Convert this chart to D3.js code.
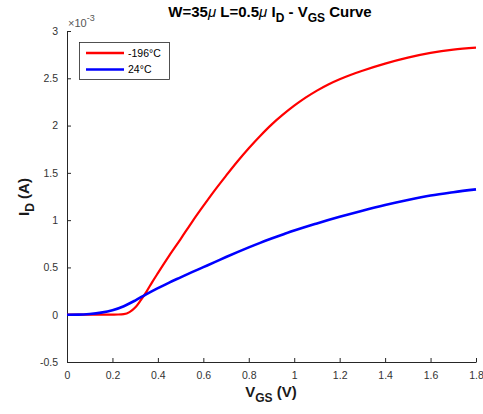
<!DOCTYPE html>
<html>
<head>
<meta charset="utf-8">
<script src="https://cdn.jsdelivr.net/npm/d3@7"></script>
<style>
  html, body { margin: 0; padding: 0; background: #fff; }
  svg { display: block; font-family: "Liberation Sans", Arial, Helvetica, sans-serif; }
</style>
</head>
<body>
<svg id="chart" width="483" height="414"></svg>
<script>
// ---- data (I_D in units of 1e-3 A) ----
const vgs196 = [0, 0.05, 0.1, 0.15, 0.2, 0.225, 0.25, 0.275, 0.3, 0.325, 0.35, 0.375, 0.4, 0.45, 0.5, 0.55, 0.6, 0.65, 0.7, 0.75, 0.8, 0.85, 0.9, 0.95, 1.0, 1.05, 1.1, 1.15, 1.2, 1.25, 1.3, 1.4, 1.5, 1.6, 1.7, 1.8];
const id196  = [0, 0, 0, 0, 0.001, 0.002, 0.006, 0.027, 0.075, 0.155, 0.245, 0.345, 0.44, 0.625, 0.80, 0.98, 1.15, 1.315, 1.47, 1.62, 1.76, 1.89, 2.01, 2.115, 2.21, 2.295, 2.37, 2.435, 2.49, 2.538, 2.58, 2.655, 2.718, 2.768, 2.803, 2.825];
const vgs24  = [0, 0.05, 0.1, 0.15, 0.2, 0.25, 0.3, 0.35, 0.4, 0.45, 0.5, 0.55, 0.6, 0.65, 0.7, 0.75, 0.8, 0.85, 0.9, 0.95, 1.0, 1.1, 1.2, 1.3, 1.4, 1.5, 1.6, 1.7, 1.8];
const id24   = [0, 0.001, 0.008, 0.022, 0.047, 0.09, 0.15, 0.218, 0.282, 0.34, 0.395, 0.45, 0.503, 0.556, 0.61, 0.662, 0.712, 0.76, 0.805, 0.848, 0.89, 0.965, 1.035, 1.10, 1.16, 1.213, 1.26, 1.295, 1.325];
const xTicks = [0, 0.2, 0.4, 0.6, 0.8, 1, 1.2, 1.4, 1.6, 1.8];
const yTicks = [-0.5, 0, 0.5, 1, 1.5, 2, 2.5, 3];
const seriesNames = ["-196°C", "24°C"];
const seriesColors = ["#ff0000", "#0000ff"];

const svg = d3.select("#chart");
const mLeft = 67, mRight = 476, mTop = 31, mBottom = 362;

const x = d3.scaleLinear().domain([0, 1.8]).range([mLeft, mRight]);
const y = d3.scaleLinear().domain([-0.5, 3]).range([mBottom, mTop]);

const axisColor = "#262626";
const tickFmt = d => (d === 0 ? "0" : String(d));

// X axis (ticks inside)
const gx = svg.append("g").attr("transform", `translate(0,${mBottom})`)
  .call(d3.axisBottom(x).tickValues(xTicks).tickSizeInner(-4).tickSizeOuter(0).tickPadding(10).tickFormat(tickFmt));
// Y axis
const gy = svg.append("g").attr("transform", `translate(${mLeft},0)`)
  .call(d3.axisLeft(y).tickValues(yTicks).tickSizeInner(-4).tickSizeOuter(0).tickPadding(9).tickFormat(tickFmt));

[gx, gy].forEach(g => {
  g.select(".domain").attr("stroke", axisColor).attr("stroke-width", 1);
  g.selectAll(".tick line").attr("stroke", axisColor);
  g.selectAll(".tick text").attr("fill", "#333").attr("font-size", 10.5)
    .attr("font-family", "Liberation Sans, Arial, sans-serif");
});

// exponent label
const ex = svg.append("text").attr("x", 68).attr("y", 27).attr("fill", "#555").attr("font-size", 11);
ex.append("tspan").text("×10");
ex.append("tspan").attr("dy", -6).attr("font-size", 9).text("-3");

// lines
const line = d3.line().x(d => x(d[0])).y(d => y(d[1])).curve(d3.curveMonotoneX);
const data196 = vgs196.map((v, i) => [v, id196[i]]);
const data24 = vgs24.map((v, i) => [v, id24[i]]);

svg.append("path").datum(data196).attr("d", line)
  .attr("fill", "none").attr("stroke", seriesColors[0]).attr("stroke-width", 2.2);
svg.append("path").datum(data24).attr("d", line)
  .attr("fill", "none").attr("stroke", seriesColors[1]).attr("stroke-width", 2.6);

// title
const title = svg.append("text").attr("x", 270).attr("y", 17).attr("text-anchor", "middle")
  .attr("font-size", 15).attr("font-weight", "bold").attr("fill", "#000");
title.append("tspan").text("W=35");
title.append("tspan").attr("font-style", "italic").attr("font-weight", "normal").text("μ");
title.append("tspan").text(" L=0.5");
title.append("tspan").attr("font-style", "italic").attr("font-weight", "normal").text("μ");
title.append("tspan").text(" I");
title.append("tspan").attr("dy", 5).attr("font-size", 12).text("D");
title.append("tspan").attr("dy", -5).text(" - V");
title.append("tspan").attr("dy", 5).attr("font-size", 12).text("GS");
title.append("tspan").attr("dy", -5).text(" Curve");

// x label
const xl = svg.append("text").attr("x", 271).attr("y", 397).attr("text-anchor", "middle")
  .attr("font-size", 15).attr("font-weight", "bold").attr("fill", "#1a1a1a");
xl.append("tspan").text("V");
xl.append("tspan").attr("dy", 5).attr("font-size", 12).text("GS");
xl.append("tspan").attr("dy", -5).text(" (V)");

// y label
const yl = svg.append("text").attr("transform", "translate(29,197) rotate(-90)").attr("text-anchor", "middle")
  .attr("font-size", 15).attr("font-weight", "bold").attr("fill", "#1a1a1a");
yl.append("tspan").text("I");
yl.append("tspan").attr("dy", 5).attr("font-size", 12).text("D");
yl.append("tspan").attr("dy", -5).text(" (A)");

// legend
const lg = svg.append("g");
lg.append("rect").attr("x", 79.5).attr("y", 42.5).attr("width", 90).attr("height", 37)
  .attr("fill", "#fff").attr("stroke", axisColor).attr("stroke-width", 0.8);
seriesNames.forEach((name, i) => {
  const yy = 53 + i * 16.5;
  lg.append("line").attr("x1", 86).attr("x2", 124).attr("y1", yy).attr("y2", yy)
    .attr("stroke", seriesColors[i]).attr("stroke-width", 2.4);
  lg.append("text").attr("x", 128).attr("y", yy + 3.8).attr("font-size", 10.5).attr("fill", "#000").text(name);
});
</script>
</body>
</html>
